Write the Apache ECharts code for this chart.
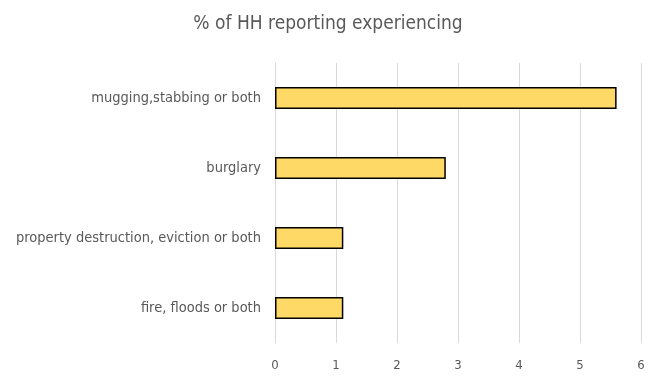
<!DOCTYPE html>
<html>
<head>
<meta charset="utf-8">
<script src="https://cdn.jsdelivr.net/npm/echarts@6/dist/echarts.min.js"></script>
<style>
  html, body { margin: 0; padding: 0; background: #ffffff; }
  #chart { width: 656px; height: 376px; }
</style>
</head>
<body>
<div id="chart"></div>
<script>
// Categories listed bottom to top (ECharts category y-axis starts at the bottom)
const categories = [
  'fire, floods or both',
  'property destruction, eviction or both',
  'burglary',
  'mugging,stabbing or both'
];
const values = [1.12, 1.12, 2.8, 5.6];
const xTicks = [0, 1, 2, 3, 4, 5, 6];

const fontFamily = '"Liberation Sans Narrow", "DejaVu Sans Condensed", "Open Sans", sans-serif';

const chart = echarts.init(document.getElementById('chart'));
chart.setOption({
  animation: false,
  title: {
    text: '% of HH reporting experiencing',
    left: 'center',
    top: 10,
    textStyle: { fontFamily, fontSize: 19, fontWeight: 'normal', color: '#595959' }
  },
  grid: { left: 275, right: 15, top: 63, bottom: 33, containLabel: false },
  xAxis: {
    type: 'value',
    min: xTicks[0],
    max: xTicks[xTicks.length - 1],
    interval: 1,
    axisLine: { show: false },
    axisTick: { show: false },
    splitLine: { show: true, lineStyle: { color: '#d9d9d9', width: 1 } },
    axisLabel: { fontFamily, fontSize: 13, color: '#595959', margin: 16 }
  },
  yAxis: {
    type: 'category',
    data: categories,
    axisLine: { show: true, lineStyle: { color: '#d9d9d9' } },
    axisTick: { show: false },
    axisLabel: { fontFamily, fontSize: 14.5, color: '#595959', margin: 14 }
  },
  series: [{
    type: 'bar',
    data: values,
    barWidth: 22,
    itemStyle: { color: '#FFD966', borderColor: '#000000', borderWidth: 1.5 }
  }]
});
</script>
</body>
</html>
